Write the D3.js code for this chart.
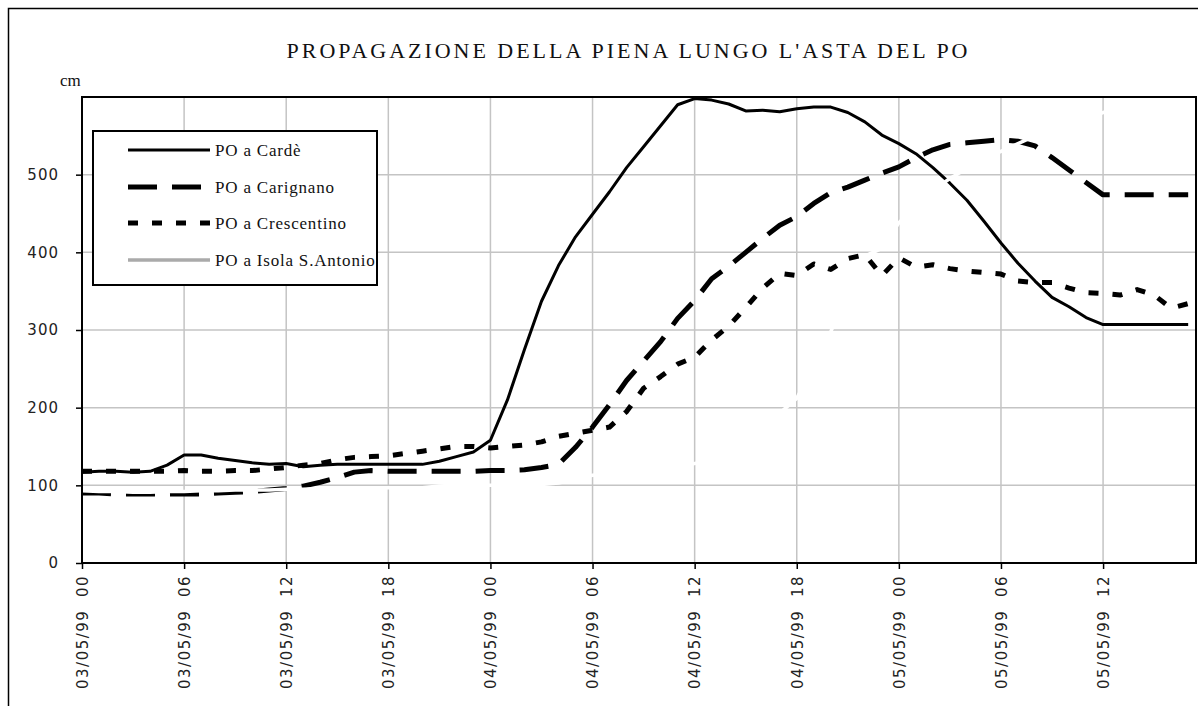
<!DOCTYPE html>
<html>
<head>
<meta charset="utf-8">
<script src="https://cdn.jsdelivr.net/npm/d3@7/dist/d3.min.js"></script>
<style>
  html, body { margin: 0; padding: 0; background: #fff; }
  svg { display: block; }
</style>
</head>
<body>
<svg id="chart" width="1198" height="706"></svg>
<script>
// Hourly water levels (cm) from 03/05/99 00:00 onwards
const hours = d3.range(0, 66);

const cardeValues = [
  117, 118, 118, 117, 118, 126, 139, 139, 135, 132,
  129, 127, 128, 124, 126, 127, 127, 127, 127, 127,
  127, 131, 137, 143, 158, 210, 275, 337, 383, 420,
  449, 478, 509, 536, 563, 590, 598, 596, 591, 582,
  583, 581, 585, 587, 587, 580, 568, 551, 540, 527,
  509, 489, 467, 440, 412, 386, 363, 342, 330, 316,
  307, 307, 307, 307, 307, 307
];

const carignanoValues = [
  90, 90, 89, 89, 89, 89, 89, 89, 90, 91,
  92, 94, 96, 99, 104, 110, 117, 119, 118, 118,
  118, 118, 118, 118, 119, 119, 120, 123, 127, 149,
  175, 204, 235, 260, 285, 315, 338, 366, 382, 400,
  418, 435, 446, 463, 477, 484, 493, 502, 510, 522,
  532, 539, 541, 543, 545, 543, 537, 522, 506, 490,
  474, 474, 474, 474, 474, 474
];

const crescentinoValues = [
  118, 118, 118, 118, 118, 118, 119, 118, 118, 119,
  119, 121, 123, 126, 128, 133, 136, 137, 138, 141,
  144, 147, 150, 150, 148, 150, 152, 156, 163, 167,
  171, 175, 195, 225, 240, 256, 265, 287, 305, 329,
  354, 373, 370, 385, 378, 392, 397, 370, 393, 381,
  384, 379, 376, 374, 372, 363, 361, 361, 354, 348,
  347, 345, 352, 345, 328, 334
];

const isolaValues = [
  93, 92, 92, 91, 91, 92, 92, 93, 93, 94,
  94, 94, 95, 95, 96, 96, 96, 96, 97, 97,
  97, 99, 100, 100, 100, 100, 100, 101, 103, 108,
  113, 116, 118, 120, 122, 125, 128, 135, 145, 160,
  178, 193, 212, 255, 298, 345, 395, 405, 438, 460,
  480, 495, 508, 520, 530, 540, 550, 558, 565, 572,
  580, 585, 588, 590, 592, 594
];

const seriesNames = ["PO a Cardè", "PO a Carignano", "PO a Crescentino", "PO a Isola S.Antonio"];
const yTickValues = [0, 100, 200, 300, 400, 500];
const xTickHours = [0, 6, 12, 18, 24, 30, 36, 42, 48, 54, 60];
const xTickLabels = [
  "03/05/99  00", "03/05/99  06", "03/05/99  12", "03/05/99  18",
  "04/05/99  00", "04/05/99  06", "04/05/99  12", "04/05/99  18",
  "05/05/99  00", "05/05/99  06", "05/05/99  12"
];

const svg = d3.select("#chart");
const W = 1198, H = 706;
const plot = { left: 82, right: 1196, top: 97, bottom: 563 };

svg.append("rect").attr("width", W).attr("height", H).attr("fill", "#fff");
// outer chart frame
svg.append("rect")
  .attr("x", 8.5).attr("y", 8.5).attr("width", W + 20).attr("height", H + 20)
  .attr("fill", "none").attr("stroke", "#000").attr("stroke-width", 1.5);

const x = d3.scaleLinear().domain([0, 65.46]).range([plot.left, plot.right]);
const y = d3.scaleLinear().domain([0, 600]).range([plot.bottom, plot.top]);

// gridlines
const grid = svg.append("g").attr("stroke", "#c4c4c4").attr("stroke-width", 1.5);
grid.selectAll("line.h").data(yTickValues.slice(1)).join("line")
  .attr("x1", plot.left).attr("x2", plot.right)
  .attr("y1", d => y(d)).attr("y2", d => y(d));
grid.selectAll("line.v").data(xTickHours.slice(1)).join("line")
  .attr("x1", d => x(d)).attr("x2", d => x(d))
  .attr("y1", plot.top).attr("y2", plot.bottom);

// axes
const yAxis = d3.axisLeft(y).tickValues(yTickValues).tickSize(6).tickPadding(17);
const yg = svg.append("g").attr("transform", `translate(${plot.left},0)`).call(yAxis);
yg.select(".domain").remove();
yg.selectAll(".tick line").attr("stroke", "#000").attr("stroke-width", 1.5);
yg.selectAll(".tick text")
  .attr("font-family", "DejaVu Sans, sans-serif").attr("font-size", 15)
  .attr("letter-spacing", 1).attr("fill", "#222");

const xAxis = d3.axisBottom(x).tickValues(xTickHours).tickSize(6)
  .tickFormat((d, i) => xTickLabels[i]);
const xg = svg.append("g").attr("transform", `translate(0,${plot.bottom})`).call(xAxis);
xg.select(".domain").remove();
xg.selectAll(".tick line").attr("stroke", "#000").attr("stroke-width", 1.5);
xg.selectAll(".tick text")
  .attr("font-family", "DejaVu Sans, sans-serif").attr("font-size", 15)
  .attr("letter-spacing", 1.5).attr("fill", "#222")
  .style("white-space", "pre")
  .attr("text-anchor", "end")
  .attr("transform", "rotate(-90)")
  .attr("x", -12).attr("y", 0).attr("dy", "0.35em");

// series
const line = d3.line().x((d, i) => x(hours[i])).y(d => y(d));
const seriesStyles = [
  { values: cardeValues, color: "#000", width: 3, dash: null },
  { values: carignanoValues, color: "#000", width: 5, dash: "29,15" },
  { values: crescentinoValues, color: "#000", width: 5, dash: "10,14" },
  { values: isolaValues, color: "#fff", width: 3.5, dash: null }
];
svg.append("defs").append("clipPath").attr("id", "plotClip")
  .append("rect").attr("x", plot.left).attr("y", plot.top)
  .attr("width", plot.right - plot.left).attr("height", plot.bottom - plot.top);
const lines = svg.append("g").attr("clip-path", "url(#plotClip)");
seriesStyles.forEach(s => {
  lines.append("path").datum(s.values)
    .attr("d", line)
    .attr("fill", "none")
    .attr("stroke", s.color)
    .attr("stroke-width", s.width)
    .attr("stroke-linejoin", "round")
    .attr("stroke-dasharray", s.dash);
});

// plot frame
svg.append("rect")
  .attr("x", plot.left).attr("y", plot.top)
  .attr("width", plot.right - plot.left).attr("height", plot.bottom - plot.top)
  .attr("fill", "none").attr("stroke", "#000").attr("stroke-width", 2);

// title and unit
svg.append("text")
  .attr("x", 627).attr("y", 58).attr("text-anchor", "middle")
  .attr("font-family", "Liberation Serif, serif").attr("font-size", 22)
  .attr("textLength", 681).attr("lengthAdjust", "spacing")
  .attr("fill", "#111")
  .text("PROPAGAZIONE DELLA PIENA LUNGO L'ASTA DEL PO");
svg.append("text")
  .attr("x", 60).attr("y", 86)
  .attr("font-family", "Liberation Serif, serif").attr("font-size", 17).attr("fill", "#111")
  .text("cm");

// legend
const legend = { x: 93, y: 131, w: 284, h: 154 };
svg.append("rect")
  .attr("x", legend.x).attr("y", legend.y).attr("width", legend.w).attr("height", legend.h)
  .attr("fill", "#fff").attr("stroke", "#000").attr("stroke-width", 2);
const legendColors = ["#000", "#000", "#000", "#aaa"];
const rowY = [150, 187, 223, 260];
seriesNames.forEach((name, i) => {
  svg.append("line")
    .attr("x1", 128).attr("x2", 210).attr("y1", rowY[i]).attr("y2", rowY[i])
    .attr("stroke", legendColors[i])
    .attr("stroke-width", seriesStyles[i].width)
    .attr("stroke-dasharray", seriesStyles[i].dash);
  svg.append("text")
    .attr("x", 215).attr("y", rowY[i] + 6)
    .attr("font-family", "Liberation Serif, serif").attr("font-size", 17)
    .attr("letter-spacing", 0.8).attr("fill", "#111")
    .text(name);
});
</script>
</body>
</html>
